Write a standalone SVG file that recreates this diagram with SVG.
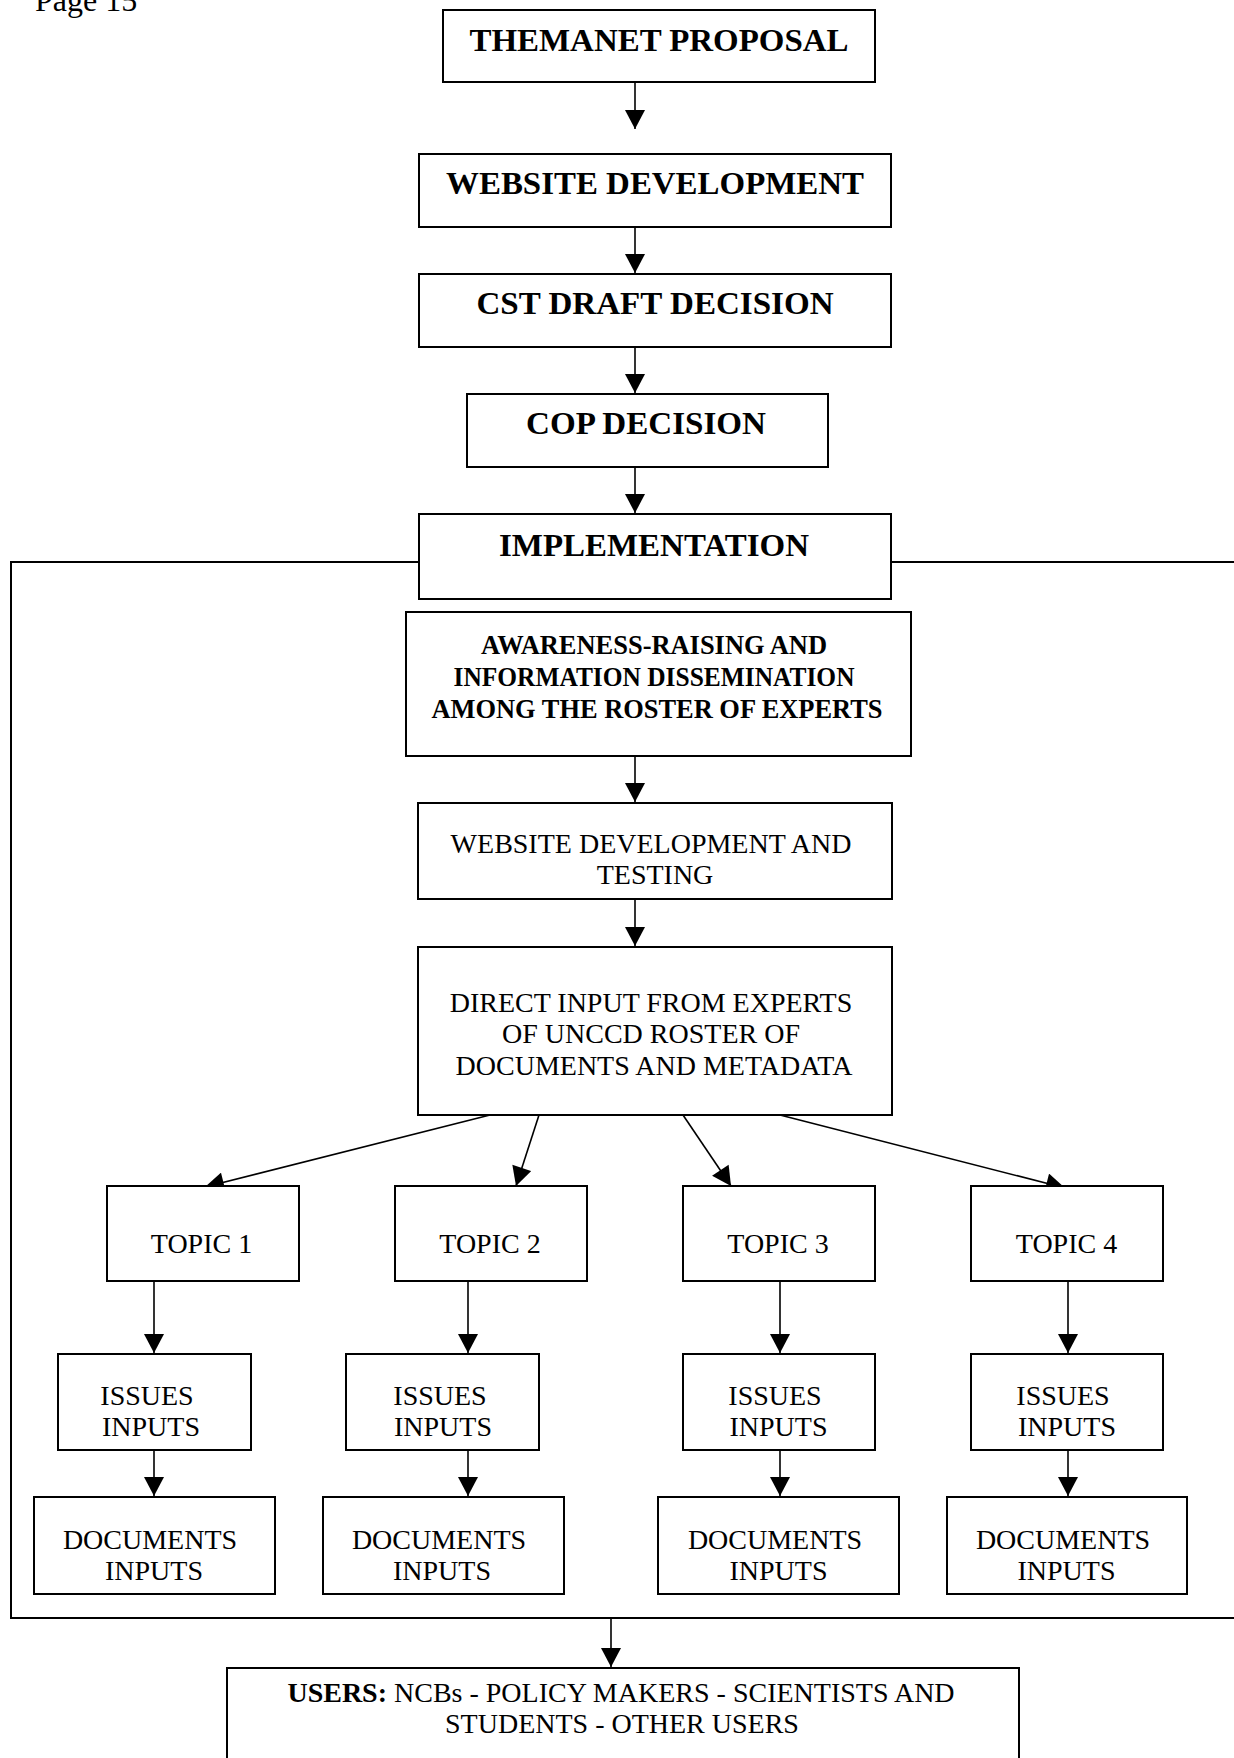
<svg xmlns="http://www.w3.org/2000/svg" width="1234" height="1758" viewBox="0 0 1234 1758">
<style>
.box{fill:#fff;stroke:#000;stroke-width:2}
.frame{fill:none;stroke:#000;stroke-width:2}
.conn{stroke:#000;stroke-width:1.6;fill:none;marker-end:url(#ah)}
.tb{font-family:"Liberation Serif","Times New Roman",serif;font-weight:bold;font-size:32px;text-anchor:middle;fill:#000}
.tb2{font-family:"Liberation Serif","Times New Roman",serif;font-weight:bold;font-size:27px;text-anchor:middle;fill:#000}
.t{font-family:"Liberation Serif","Times New Roman",serif;font-size:28px;text-anchor:middle;fill:#000}
.pg{font-family:"Liberation Serif","Times New Roman",serif;font-size:32px;fill:#000}
</style>
<defs>
<marker id="ah" markerUnits="userSpaceOnUse" markerWidth="20" markerHeight="20" refX="19" refY="10" orient="auto" viewBox="0 0 19 20">
<path d="M0,0 L19,10 L0,20 Z" fill="#000"/>
</marker>
</defs>
<rect width="1234" height="1758" fill="#fff"/>
<text class="pg" x="35" y="11">Page 15</text>
<g id="frame"><rect class="frame" x="11" y="562" width="1240" height="1056"/></g>
<g id="connectors">
<line class="conn" x1="635" y1="82" x2="635" y2="129"/>
<line class="conn" x1="635" y1="227" x2="635" y2="273"/>
<line class="conn" x1="635" y1="347" x2="635" y2="393"/>
<line class="conn" x1="635" y1="467" x2="635" y2="513"/>
<line class="conn" x1="635" y1="756" x2="635" y2="802"/>
<line class="conn" x1="635" y1="899" x2="635" y2="946"/>
<line class="conn" x1="490" y1="1115" x2="205" y2="1187"/>
<line class="conn" x1="539" y1="1115" x2="516" y2="1186"/>
<line class="conn" x1="683" y1="1115" x2="731" y2="1186"/>
<line class="conn" x1="780" y1="1115" x2="1065" y2="1188"/>
<line class="conn" x1="154" y1="1281" x2="154" y2="1353"/>
<line class="conn" x1="468" y1="1281" x2="468" y2="1353"/>
<line class="conn" x1="780" y1="1281" x2="780" y2="1353"/>
<line class="conn" x1="1068" y1="1281" x2="1068" y2="1353"/>
<line class="conn" x1="154" y1="1450" x2="154" y2="1496"/>
<line class="conn" x1="468" y1="1450" x2="468" y2="1496"/>
<line class="conn" x1="780" y1="1450" x2="780" y2="1496"/>
<line class="conn" x1="1068" y1="1450" x2="1068" y2="1496"/>
<line class="conn" x1="611" y1="1618" x2="611" y2="1667"/>
</g>
<g id="n-proposal"><rect class="box" x="443" y="10" width="432" height="72"/><text class="tb" x="659" y="51" textLength="379" lengthAdjust="spacingAndGlyphs">THEMANET PROPOSAL</text></g>
<g id="n-website"><rect class="box" x="419" y="154" width="472" height="73"/><text class="tb" x="655" y="194" textLength="418" lengthAdjust="spacingAndGlyphs">WEBSITE DEVELOPMENT</text></g>
<g id="n-cst"><rect class="box" x="419" y="274" width="472" height="73"/><text class="tb" x="655" y="314" textLength="357" lengthAdjust="spacingAndGlyphs">CST DRAFT DECISION</text></g>
<g id="n-cop"><rect class="box" x="467" y="394" width="361" height="73"/><text class="tb" x="646" y="434" textLength="240" lengthAdjust="spacingAndGlyphs">COP DECISION</text></g>
<g id="n-impl"><rect class="box" x="419" y="514" width="472" height="85"/><text class="tb" x="654" y="556" textLength="310" lengthAdjust="spacingAndGlyphs">IMPLEMENTATION</text></g>
<g id="n-awareness"><rect class="box" x="406" y="612" width="505" height="144"/>
<text class="tb2" x="654" y="654" textLength="346" lengthAdjust="spacingAndGlyphs">AWARENESS-RAISING AND</text>
<text class="tb2" x="654" y="686" textLength="401" lengthAdjust="spacingAndGlyphs">INFORMATION DISSEMINATION</text>
<text class="tb2" x="657" y="718" textLength="451" lengthAdjust="spacingAndGlyphs">AMONG THE ROSTER OF EXPERTS</text></g>
<g id="n-testing"><rect class="box" x="418" y="803" width="474" height="96"/>
<text class="t" x="651" y="853">WEBSITE DEVELOPMENT AND</text>
<text class="t" x="655" y="884">TESTING</text></g>
<g id="n-direct"><rect class="box" x="418" y="947" width="474" height="168"/>
<text class="t" x="651" y="1012">DIRECT INPUT FROM EXPERTS</text>
<text class="t" x="651" y="1043">OF UNCCD ROSTER OF</text>
<text class="t" x="654" y="1075">DOCUMENTS AND METADATA</text></g>
<g id="n-topic1"><rect class="box" x="107" y="1186" width="192" height="95"/><text class="t" x="201.5" y="1253">TOPIC 1</text></g>
<g id="n-topic2"><rect class="box" x="395" y="1186" width="192" height="95"/><text class="t" x="490" y="1253">TOPIC 2</text></g>
<g id="n-topic3"><rect class="box" x="683" y="1186" width="192" height="95"/><text class="t" x="778" y="1253">TOPIC 3</text></g>
<g id="n-topic4"><rect class="box" x="971" y="1186" width="192" height="95"/><text class="t" x="1066.5" y="1253">TOPIC 4</text></g>
<g id="n-issues1"><rect class="box" x="58" y="1354" width="193" height="96"/><text class="t" x="147" y="1405">ISSUES</text><text class="t" x="151" y="1436">INPUTS</text></g>
<g id="n-issues2"><rect class="box" x="346" y="1354" width="193" height="96"/><text class="t" x="440" y="1405">ISSUES</text><text class="t" x="443" y="1436">INPUTS</text></g>
<g id="n-issues3"><rect class="box" x="683" y="1354" width="192" height="96"/><text class="t" x="775" y="1405">ISSUES</text><text class="t" x="778.5" y="1436">INPUTS</text></g>
<g id="n-issues4"><rect class="box" x="971" y="1354" width="192" height="96"/><text class="t" x="1063" y="1405">ISSUES</text><text class="t" x="1067" y="1436">INPUTS</text></g>
<g id="n-docs1"><rect class="box" x="34" y="1497" width="241" height="97"/><text class="t" x="150" y="1549">DOCUMENTS</text><text class="t" x="154" y="1580">INPUTS</text></g>
<g id="n-docs2"><rect class="box" x="323" y="1497" width="241" height="97"/><text class="t" x="439" y="1549">DOCUMENTS</text><text class="t" x="442" y="1580">INPUTS</text></g>
<g id="n-docs3"><rect class="box" x="658" y="1497" width="241" height="97"/><text class="t" x="775" y="1549">DOCUMENTS</text><text class="t" x="778.5" y="1580">INPUTS</text></g>
<g id="n-docs4"><rect class="box" x="947" y="1497" width="240" height="97"/><text class="t" x="1063" y="1549">DOCUMENTS</text><text class="t" x="1066.5" y="1580">INPUTS</text></g>
<g id="n-users"><rect class="box" x="227" y="1668" width="792" height="120"/>
<text class="t" x="621" y="1702"><tspan font-weight="bold">USERS:</tspan> NCBs - POLICY MAKERS - SCIENTISTS AND</text>
<text class="t" x="622" y="1733">STUDENTS - OTHER USERS</text></g>
</svg>
